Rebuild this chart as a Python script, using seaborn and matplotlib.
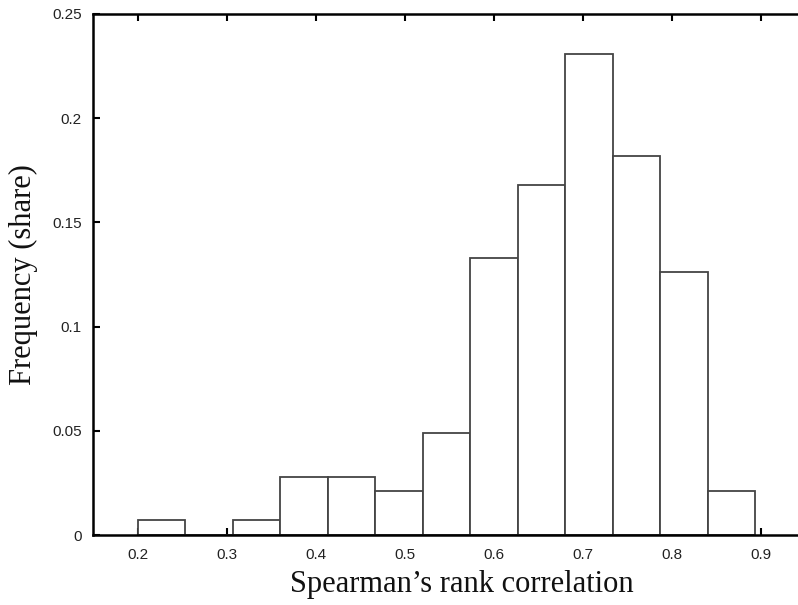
import matplotlib
matplotlib.use("Agg")
import matplotlib.pyplot as plt
import seaborn as sns
import numpy as np
import pandas as pd
from matplotlib.ticker import FuncFormatter

# Data: share of cases per correlation bin (13 equal bins from 0.2 to ~0.894)
bin_start = 0.2
bin_end = 0.8936
shares = [0.007, 0.0, 0.007, 0.028, 0.028, 0.021, 0.049,
          0.133, 0.168, 0.231, 0.182, 0.126, 0.021]
x_ticks = [0.2, 0.3, 0.4, 0.5, 0.6, 0.7, 0.8, 0.9]
y_ticks = [0, 0.05, 0.1, 0.15, 0.2, 0.25]

sns.set_theme(style="white")
plt.rcParams['font.family'] = ['Liberation Sans', 'DejaVu Sans']

n_bins = len(shares)
edges = np.linspace(bin_start, bin_end, n_bins + 1)
centers = (edges[:-1] + edges[1:]) / 2
df = pd.DataFrame({"rho": centers, "share": shares})

fig = plt.figure(figsize=(7.98, 6.05), dpi=100)
ax = fig.add_axes([0.1165, 0.1157, 0.8931, 0.8612])

sns.histplot(data=df, x="rho", weights="share", bins=n_bins,
             binrange=(bin_start, bin_end), stat="count",
             color="white", edgecolor="#444444", linewidth=1.3, alpha=1.0, ax=ax)

ax.set_xlim(0.15, 0.95)
ax.set_ylim(0, 0.25)
ax.set_xticks(x_ticks)
ax.set_yticks(y_ticks)
fmt = FuncFormatter(lambda v, p: ("%g" % round(v, 3)))
ax.xaxis.set_major_formatter(fmt)
ax.yaxis.set_major_formatter(fmt)

ax.tick_params(axis="both", direction="in", length=5, width=1.5, colors="black",
               labelsize=11, labelcolor="#222222", top=True, right=True,
               bottom=True, left=True, pad=8)
ax.tick_params(axis="x", pad=9)
for s in ax.spines.values():
    s.set_color("black")
    s.set_linewidth(1.8)

ax.set_xlabel("Spearman\u2019s rank correlation", family=['Liberation Serif', 'DejaVu Serif'],
              fontsize=22, color="#111111")
ax.xaxis.set_label_coords(0.5175, -0.068)
ax.set_ylabel("Frequency (share)", family=['Liberation Serif', 'DejaVu Serif'],
              fontsize=22, color="#111111", labelpad=10)
ax.grid(False)

fig.savefig("out.png", dpi=100)
